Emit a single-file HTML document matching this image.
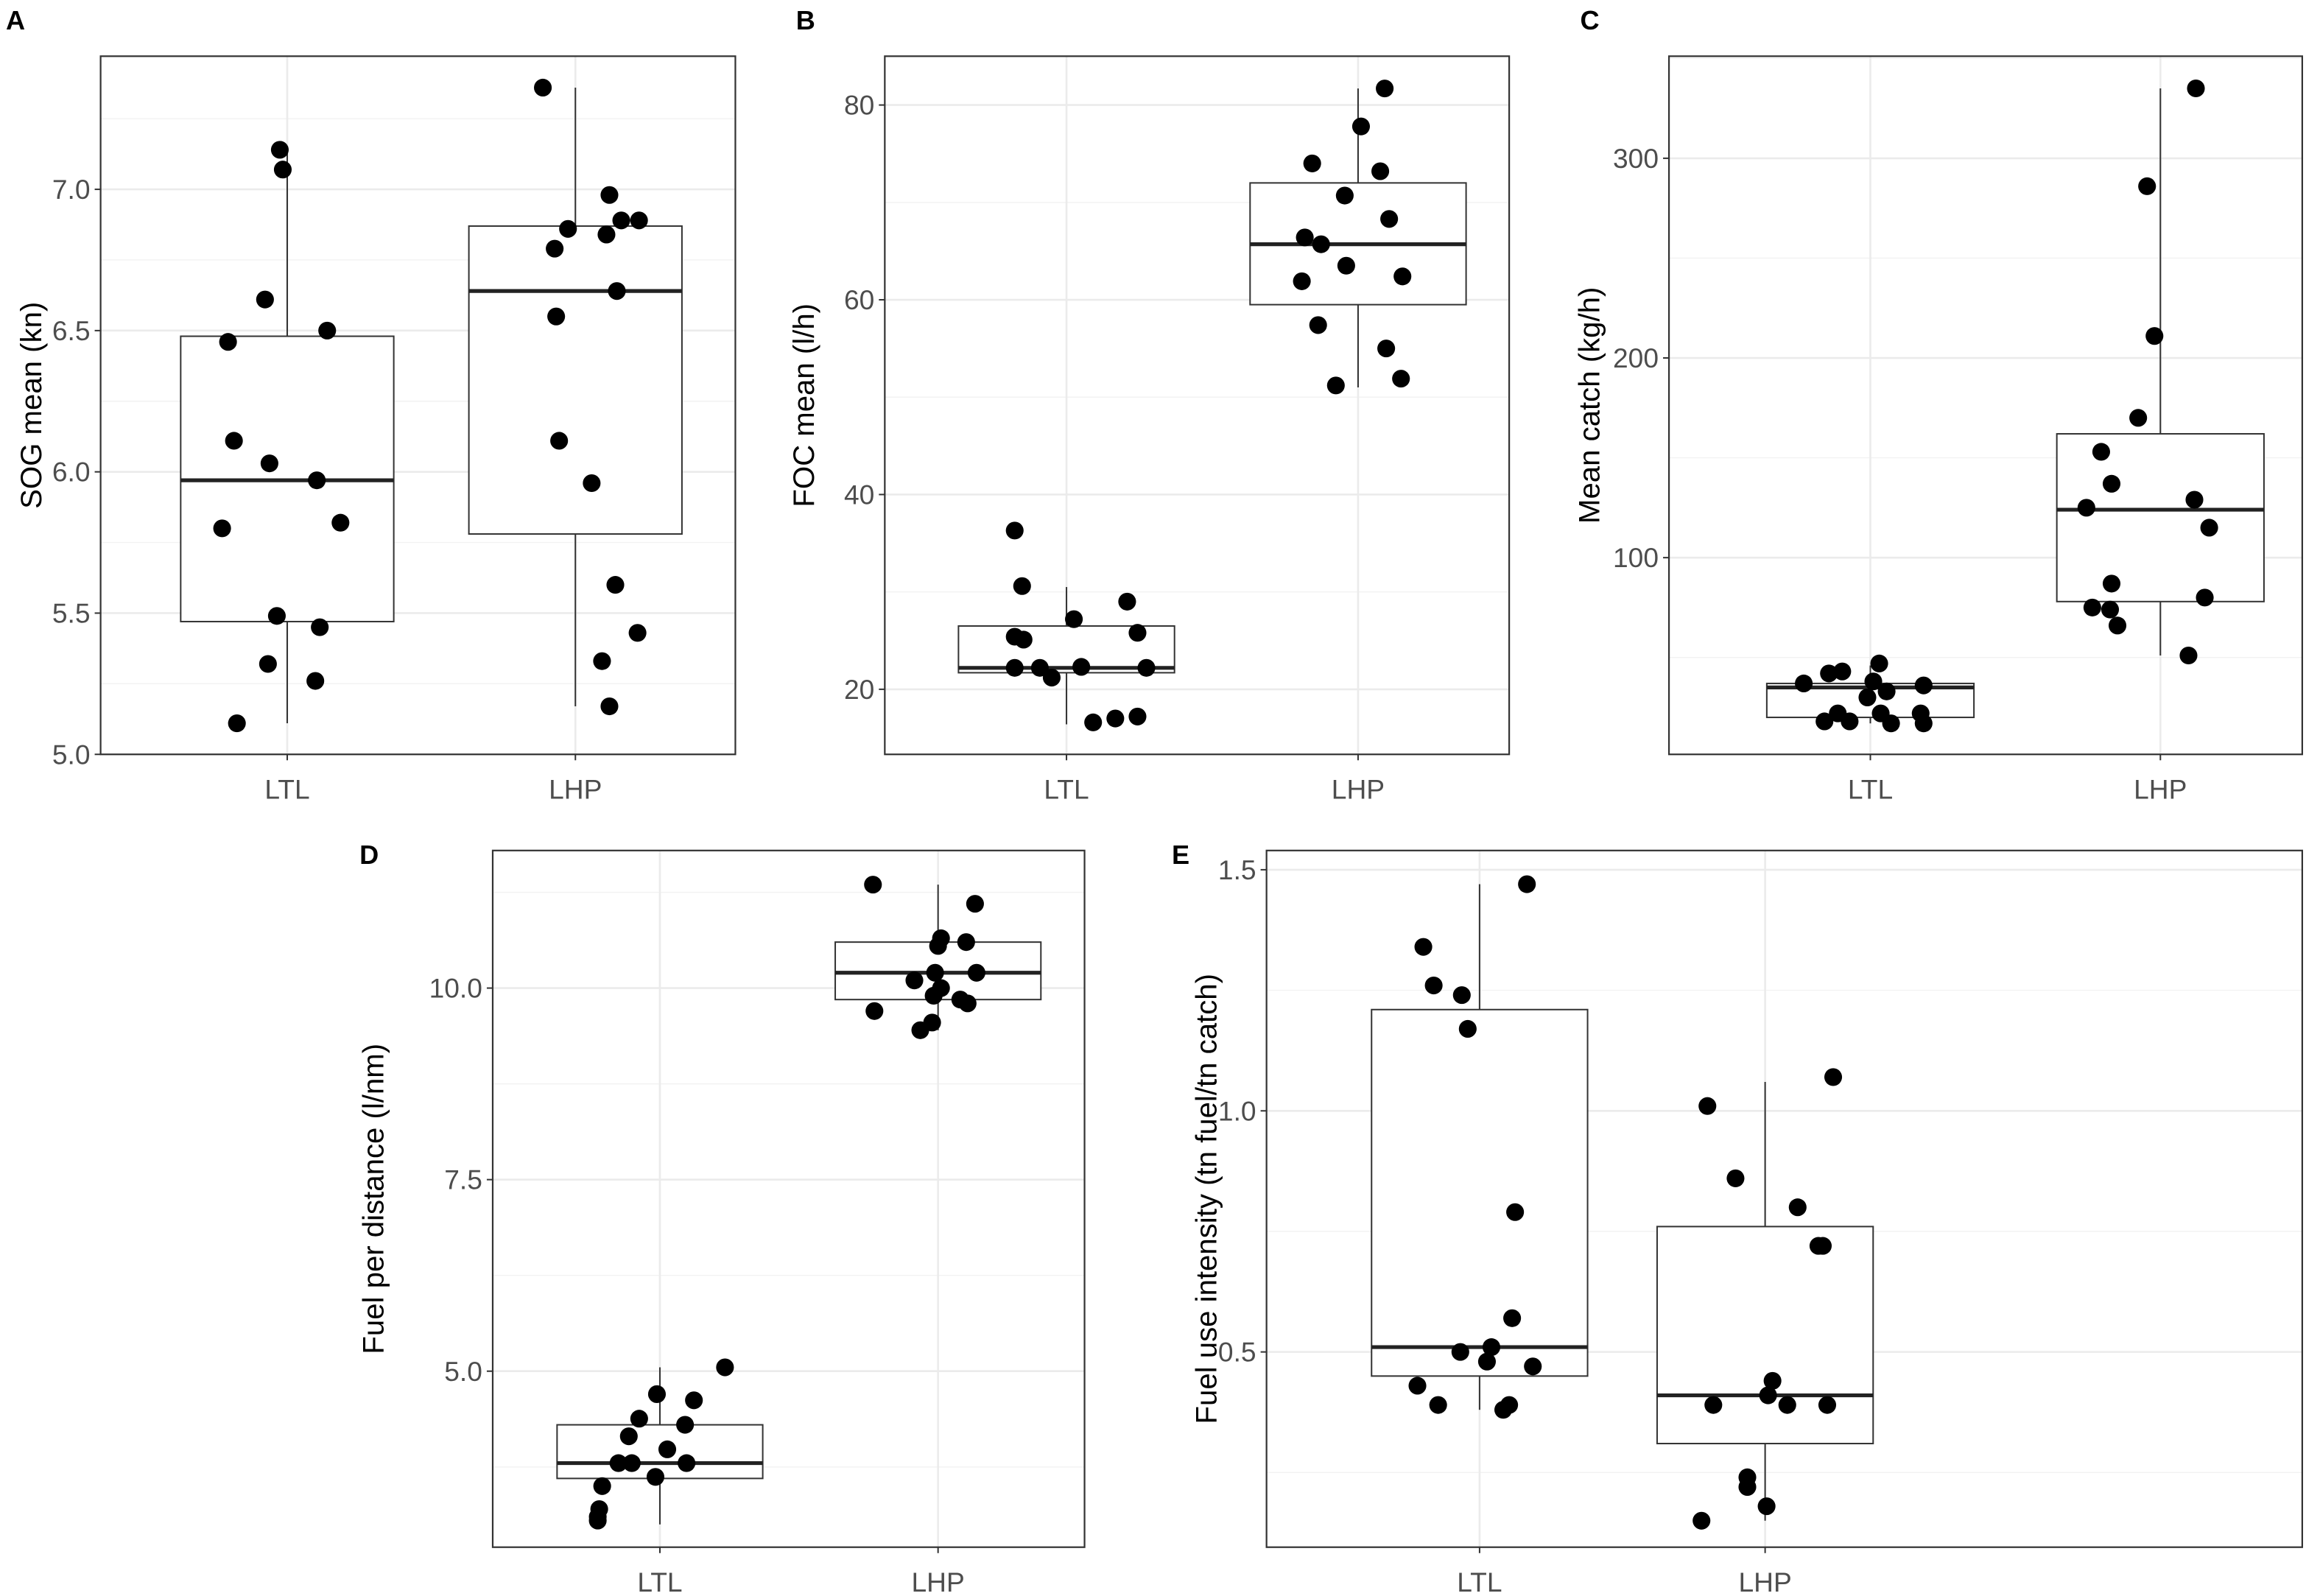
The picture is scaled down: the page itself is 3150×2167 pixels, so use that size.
<!DOCTYPE html>
<html><head><meta charset="utf-8"><style>
html,body{margin:0;padding:0;background:#fff;}
svg{display:block;font-family:"Liberation Sans",Arial,sans-serif;}
</style></head><body>
<svg id="fig" width="3150" height="2167" viewBox="0 0 1568 1079" preserveAspectRatio="none" xmlns="http://www.w3.org/2000/svg"></svg>
<script>
// ---- data ----
const categories = ["LTL","LHP"];
// Panel A: SOG mean
const aLTL = [5.11,7.14,7.07,6.61,6.50,6.46,6.11,6.03,5.97,5.80,5.82,5.49,5.45,5.32,5.26];
const aLHP = [7.36,6.98,6.86,6.79,6.84,6.89,6.89,6.64,6.55,6.11,5.96,5.60,5.43,5.33,5.17];
const aBoxLTL = [5.11,5.47,5.97,6.48,7.14];
const aBoxLHP = [5.17,5.78,6.64,6.87,7.36];
const aTicks = [5.0,5.5,6.0,6.5,7.0];
const aJitLTL = [-34,-5,-3,-15,27,-40,-36,-12,20,-44,36,-7,22,-13,19];
const aJitLHP = [-22,23,-5,-14,21,31,43,28,-13,-11,11,27,42,18,23];
// Panel B: FOC mean
const bLTL = [36.3,30.6,29.0,27.2,25.8,25.4,25.1,22.2,22.2,22.3,22.2,21.2,16.6,17.0,17.2];
const bLHP = [81.7,77.8,74.0,73.2,70.7,68.3,66.4,65.7,63.5,62.4,61.9,57.4,55.0,51.9,51.2];
const bBoxLTL = [16.4,21.7,22.2,26.5,30.5];
const bBoxLHP = [51.0,59.5,65.7,72.0,81.7];
const bTicks = [20,40,60,80];
const bJitLTL = [-35,-30,41,5,48,-35,-29,-35,-18,10,54,-10,18,33,48];
const bJitLHP = [18,2,-31,15,-9,21,-36,-25,-8,30,-38,-27,19,29,-15];
// Panel C: Mean catch
const cLTL = [47,43,42,37,38,36,33,30,22,22,18,18,17,17,22];
const cLHP = [335,286,211,170,153,137,129,125,115,87,80,75,74,66,51];
const cBoxLTL = [17,20,35,37,46];
const cBoxLHP = [51,78,124,162,335];
const cTicks = [100,200,300];
const cJitLTL = [6,-19,-28,-45,2,36,11,-2,7,34,-31,-14,14,36,-22];
const cJitLHP = [24,-9,-4,-15,-40,-33,23,-50,33,-33,30,-46,-34,-29,19];
// Panel D: Fuel per distance
const dLTL = [5.05,4.7,4.62,4.38,4.3,4.15,3.98,3.8,3.8,3.8,3.62,3.5,3.2,3.05,3.1];
const dLHP = [11.35,11.1,10.65,10.6,10.55,10.2,10.2,10.1,10.0,9.9,9.85,9.8,9.7,9.55,9.45];
const dBoxLTL = [3.0,3.6,3.8,4.3,5.05];
const dBoxLHP = [9.45,9.85,10.2,10.6,11.35];
const dTicks = [5.0,7.5,10.0];
const dJitLTL = [44,-2,23,-14,17,-21,5,-28,-19,18,-3,-39,-41,-42,-42];
const dJitLHP = [-44,25,2,19,0,26,-2,-16,2,-3,15,20,-43,-4,-12];
// Panel E: Fuel use intensity
const eLTL = [1.47,1.34,1.26,1.24,1.17,0.79,0.57,0.51,0.50,0.48,0.47,0.43,0.39,0.38,0.39];
const eLHP = [1.07,1.01,0.86,0.80,0.72,0.72,0.44,0.41,0.39,0.39,0.39,0.24,0.22,0.18,0.15];
const eBoxLTL = [0.38,0.45,0.51,1.21,1.47];
const eBoxLHP = [0.15,0.31,0.41,0.76,1.06];
const eTicks = [0.5,1.0,1.5];
const eJitLTL = [32,-38,-31,-12,-8,24,22,8,-13,5,36,-42,-28,16,20];
const eJitLHP = [46,-39,-20,22,36,39,5,2,-35,15,42,-12,-12,1,-43];

const NS="http://www.w3.org/2000/svg";
const svg=document.getElementById('fig');
function mk(tag,attrs,parent){const e=document.createElementNS(NS,tag);for(const k in attrs)e.setAttribute(k,attrs[k]);(parent||svg).appendChild(e);return e;}

function panel(o){
  const g=mk('g',{});
  
  
  const y=v=>o.py0+(v-o.v0)*(o.py1-o.py0)/(o.v1-o.v0);
  const xc=i=>o.x0+(o.x1-o.x0)*(i===0?o.c0:o.c1);
  const step=o.ticks[1]-o.ticks[0];
  for(let i=-1;i<o.ticks.length;i++){
    const mv=o.ticks[0]+step*(i+0.5);const py=y(mv);
    if(py>o.y0&&py<o.y1){const l=mk('line',{x1:o.x0,x2:o.x1,y1:py,y2:py,stroke:'#f2f2f2','stroke-width':0.7},g);
      }
  }
  o.ticks.forEach(t=>{const py=y(t);
    const l=mk('line',{x1:o.x0,x2:o.x1,y1:py,y2:py,stroke:'#ebebeb','stroke-width':1.3},g);
    
    const tk=mk('line',{x1:o.x0-4,x2:o.x0,y1:py,y2:py,stroke:'#333','stroke-width':1},g);
    
    const tx=mk('text',{x:o.x0-7,y:py+6.5,'text-anchor':'end','font-size':18.5,fill:'#4d4d4d'},g);
    tx.textContent=o.fmt(t);
    
  });
  categories.forEach((c,i)=>{const px=xc(i);
    const l=mk('line',{x1:px,x2:px,y1:o.y0,y2:o.y1,stroke:'#ebebeb','stroke-width':1.3},g);
    
    const tk=mk('line',{x1:px,x2:px,y1:o.y1,y2:o.y1+4,stroke:'#333','stroke-width':1},g);
    
    const tx=mk('text',{x:px,y:o.y1+30,'text-anchor':'middle','font-size':18.5,fill:'#4d4d4d'},g);
    tx.textContent=c;
    
  });
  [o.boxL,o.boxH].forEach((b,i)=>{const px=xc(i),hw=o.bw/2;
    const bg=mk('g',{},g);
    
    mk('line',{x1:px,x2:px,y1:y(b[0]),y2:y(b[1]),stroke:'#333','stroke-width':1},bg);
    mk('line',{x1:px,x2:px,y1:y(b[3]),y2:y(b[4]),stroke:'#333','stroke-width':1},bg);
    mk('rect',{x:px-hw,y:y(b[3]),width:o.bw,height:y(b[1])-y(b[3]),fill:'#fff',stroke:'#333','stroke-width':1},bg);
    mk('line',{x1:px-hw,x2:px+hw,y1:y(b[2]),y2:y(b[2]),stroke:'#222','stroke-width':2.6},bg);
  });
  [[o.ptsL,o.jitL],[o.ptsH,o.jitH]].forEach((s,i)=>{
    s[0].forEach((v,k)=>{
      const c=mk('circle',{cx:xc(i)+s[1][k],cy:y(v),r:6,fill:'#000'},g);
      
      
    });
  });
  const bd=mk('rect',{x:o.x0,y:o.y0,width:o.x1-o.x0,height:o.y1-o.y0,fill:'none',stroke:'#333','stroke-width':1.1},g);
  
  const cy=(o.y0+o.y1)/2;
  const yt=mk('text',{x:o.tx,y:cy,'text-anchor':'middle','font-size':20,fill:'#000',transform:`rotate(-90 ${o.tx} ${cy})`},g);
  yt.textContent=o.title;
  
  const lb=mk('text',{x:o.lx,y:o.ly,'font-size':18,'font-weight':'bold',fill:'#000'},g);
  lb.textContent=o.label;
  
}
const f1=v=>v.toFixed(1), f0=v=>String(v);
panel({name:'panel-a',label:'A',lx:4,ly:20,title:'SOG mean (kn)',tx:28,x0:68,x1:497,y0:38,y1:510,c0:0.294,c1:0.748,bw:144,py0:510,v0:5.0,py1:128,v1:7.0,ticks:aTicks,fmt:f1,boxL:aBoxLTL,boxH:aBoxLHP,ptsL:aLTL,ptsH:aLHP,jitL:aJitLTL,jitH:aJitLHP});
panel({name:'panel-b',label:'B',lx:538,ly:20,title:'FOC mean (l/h)',tx:550,x0:598,x1:1020,y0:38,y1:510,c0:0.291,c1:0.758,bw:146,py0:466,v0:20,py1:71,v1:80,ticks:bTicks,fmt:f0,boxL:bBoxLTL,boxH:bBoxLHP,ptsL:bLTL,ptsH:bLHP,jitL:bJitLTL,jitH:bJitLHP});
panel({name:'panel-c',label:'C',lx:1068,ly:20,title:'Mean catch (kg/h)',tx:1081,x0:1128,x1:1556,y0:38,y1:510,c0:0.318,c1:0.776,bw:140,py0:377,v0:100,py1:107,v1:300,ticks:cTicks,fmt:f0,boxL:cBoxLTL,boxH:cBoxLHP,ptsL:cLTL,ptsH:cLHP,jitL:cJitLTL,jitH:cJitLHP});
panel({name:'panel-d',label:'D',lx:243,ly:584,title:'Fuel per distance (l/nm)',tx:259,x0:333,x1:733,y0:575,y1:1046,c0:0.2825,c1:0.7525,bw:139,py0:927,v0:5.0,py1:668,v1:10.0,ticks:dTicks,fmt:f1,boxL:dBoxLTL,boxH:dBoxLHP,ptsL:dLTL,ptsH:dLHP,jitL:dJitLTL,jitH:dJitLHP});
panel({name:'panel-e',label:'E',lx:792,ly:584,title:'Fuel use intensity (tn fuel/tn catch)',tx:822,x0:856,x1:1556,y0:575,y1:1046,c0:0.2057,c1:0.4814,bw:146,py0:914,v0:0.5,py1:588,v1:1.5,ticks:eTicks,fmt:f1,boxL:eBoxLTL,boxH:eBoxLHP,ptsL:eLTL,ptsH:eLHP,jitL:eJitLTL,jitH:eJitLHP});
</script>
</body></html>
